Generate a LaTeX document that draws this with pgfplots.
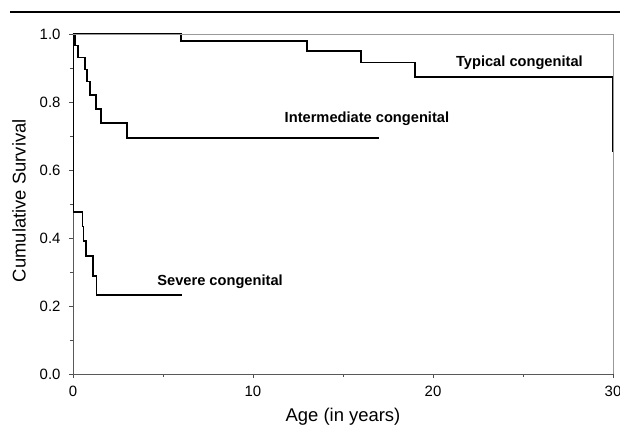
\documentclass[border=0pt]{standalone}
\usepackage{fontspec}
\setmainfont{Liberation Sans}
\usepackage{pgfplots}
\pgfplotsset{compat=1.18}

\begin{document}
\begin{tikzpicture}
\begin{axis}[
    at={(0,0)}, anchor=south west,
    scale only axis,
    width=540bp, height=340bp,
    xmin=0, xmax=30, ymin=0, ymax=1,
    axis x line*=bottom, axis y line*=left,
    axis line style={black!65, line width=0.8bp},
    tick align=outside,
    xtick={0,10,20,30}, minor xtick={5,15,25},
    ytick={0,0.2,0.4,0.6,0.8,1}, minor ytick={0.1,0.3,0.5,0.7,0.9},
    major tick length=4bp, minor tick length=3bp,
    tick style={black!70, line width=0.6bp},
    /pgf/number format/assume math mode=true,
    yticklabel style={xshift=-5bp, /pgf/number format/.cd, fixed, fixed zerofill, precision=1},
    xticklabel style={yshift=-5bp},
    tick label style={font=\fontsize{15}{17}\selectfont},
    label style={font=\fontsize{18.5}{20}\selectfont},
    xlabel={Age (in years)},
    ylabel={Cumulative Survival},
    xlabel style={at={(axis description cs:0.5,-0.127)}, anchor=center},
    ylabel style={at={(axis description cs:-0.1,0.51)}, anchor=center},
    clip=false,
]
% typical congenital
\addplot[const plot, black, line width=1.7bp] coordinates {
    (0,1.0) (6,0.979) (13,0.950) (16,0.916) (19,0.873) (30,0.653)
};
% intermediate congenital
\addplot[const plot, black, line width=1.7bp] coordinates {
    (0,1.0) (0.1,0.966) (0.28,0.931) (0.67,0.896) (0.76,0.86)
    (0.94,0.82) (1.28,0.78) (1.54,0.739) (3.0,0.695) (17,0.695)
};
% severe congenital
\addplot[const plot, black, line width=1.7bp] coordinates {
    (0,1.0) (0.02,0.477) (0.53,0.434) (0.58,0.392) (0.72,0.348)
    (1.13,0.289) (1.3,0.232) (6.04,0.232)
};
\draw[black!40, line width=0.8bp] (rel axis cs:0,1) -- (rel axis cs:1,1) -- (rel axis cs:1,0);
\node[font=\bfseries\fontsize{14.7}{16}\selectfont] at (axis cs:24.8,0.915) {Typical congenital};
\node[font=\bfseries\fontsize{14.7}{16}\selectfont] at (axis cs:16.33,0.75) {Intermediate congenital};
\node[font=\bfseries\fontsize{14.7}{16}\selectfont] at (axis cs:8.17,0.271) {Severe congenital};
\end{axis}
\draw[line width=2bp] (-63bp,362bp) -- (547bp,362bp);
\pgfresetboundingbox
\path (-73bp,-54bp) rectangle (547bp,374bp);
\end{tikzpicture}
\end{document}
